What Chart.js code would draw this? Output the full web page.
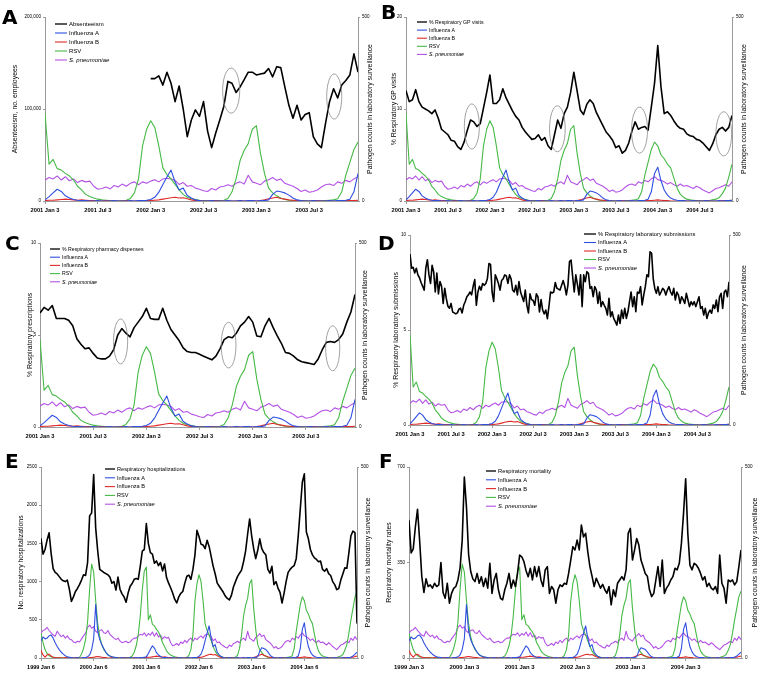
<!DOCTYPE html>
<html><head><meta charset="utf-8">
<script src="https://cdn.jsdelivr.net/npm/chart.js@4.4.1/dist/chart.umd.min.js"></script>
<style>
html,body{margin:0;padding:0;background:#fff}
body{width:768px;height:688px;position:relative;overflow:hidden}
canvas{position:absolute}
.lt{position:absolute;font:bold 20px "DejaVu Sans",sans-serif;line-height:20px;color:#000;z-index:5}
</style></head><body>
<div class="lt" style="left:2px;top:7px">A</div>
<div class="lt" style="left:381px;top:2px">B</div>
<div class="lt" style="left:5px;top:233px">C</div>
<div class="lt" style="left:378px;top:233px">D</div>
<div class="lt" style="left:5px;top:451px">E</div>
<div class="lt" style="left:379px;top:451px">F</div>
<script>
// ================= DATA =================
// Weekly time index: week 0 = 1999 Jan 6. Pathogen series are sampled every 2 weeks.
const pathogenStartWeek = 0;
const pathogenStep = 2;
const influenzaA = [45,55,50,52,58,60,52,40,30,22, 15,10,6,3,2,1,0,0,1,0, 0,1,1,3,8,22,50,140,70,48, 35,25,15,8,5,3,2,1,0,0,
  1,0,0,0,1,0,0,1,0,1, 1,2,3,12,22,32,26,14,8,4, 2,1,1,0,0,1,0,0,0,1, 0,0,0,1,0,1,1,2,4,10,
  24,45,65,84,52,30,35,15,8,3, 1,0,0,1,0,0,0,1,0,0, 1,0,1,1,0,1,1,3,18,27, 25,22,16,8,3,1,0,0,1,0,
  0,0,1,0,1,1,2,5,25,75, 92,55,30,16,8,4,2,1,1,0, 0,1,0,0,0,1,0,0,0,1, 0,1,1,2,5,10,15];
const influenzaB = [20,8,2,8,10,5,2,1,0,1, 0,0,1,0,0,0,0,1,0,0, 0,0,1,0,1,1,2,3,4,3, 2,1,1,0,0,1,0,0,0,0,
  0,1,0,0,0,0,1,0,0,1, 0,1,1,2,2,3,4,5,4,3, 2,3,2,1,1,0,0,1,0,0, 0,0,1,0,0,0,0,1,1,2,
  3,5,7,9,10,8,9,6,3,1, 1,0,0,0,1,0,0,0,0,0, 1,0,0,1,0,1,3,6,8,10, 7,5,3,2,1,1,0,0,0,1,
  0,0,0,0,0,0,1,1,1,2, 3,2,1,1,0,0,0,0,1,0, 0,0,0,0,0,1,0,0,0,0, 1,1,1,2,2,4,5];
const rsv = [65,40,22,12,6,3,2,1,1,0, 1,0,0,1,0,0,1,0,1,2, 10,25,48,95,180,246,225,150,90,55, 35,22,15,9,5,3,2,1,1,0,
  1,0,1,1,2,5,15,32,60,110, 178,228,238,100,113,88,84,75,68,57, 40,30,18,12,8,5,3,2,1,1, 0,1,2,7,22,60,150,195,218,200,
  150,90,72,60,45,30,18,10,6,4, 2,1,1,0,1,1,2,7,25,60, 110,138,156,195,205,130,75,35,22,14, 8,4,2,1,1,0,1,0,1,0,
  1,1,2,3,6,25,70,105,140,160, 150,125,115,100,90,62,35,18,10,5, 3,2,1,1,0,1,1,3,5,9, 20,35,65,100,130,160,175];
const sPneumoniae = [65,72,74,80,72,66,60,57,70,62, 56,60,52,58,50,48,42,40,44,42, 50,58,65,80,86,78,82,70,66,72,
  74,66,64,72,62,57,52,48,52,45, 40,42,44,40,42,48,52,52,58,62, 60,66,
  57,64,60,68,57,66,55,60,50,56, 52,54,40,32,34,38,33,42,38,46, 40,48,52,44,52,48,54,58,52,60,
  62,60,56,45,50,40,42,35,32,28, 26,34,30,38,40,44,40,48,52,46, 70,52,48,44,54,58,64,56,60,48,
  44,40,34,26,30,24,26,30,38,44, 46,42,52,48,56,52,60,66,58,56, 52,46,50,44,40,46,40,42,38,34,
  40,36,30,26,22,28,34,36,40,44, 40,52,46,56,48];

// Panel A: absenteeism (no. employees), from week 156, every 2 weeks
const absenteeismStart = 156;
const absenteeism = [133000,133000,136000,126000,140000,128000,108000,125000,100000,70000,
  88000,99000,92000,108000,76000,58000,74000,88000,103000,130000,
  128000,118000,124000,132000,140000,140000,137000,138000,139000,144000,
  135000,146000,145000,124000,104000,90000,104000,88000,94000,96000,
  70000,62000,58000,84000,108000,122000,112000,126000,131000,137000,
  160000,140000];
// Panel B: % respiratory GP visits, from week 104, every 2 weeks
const gpVisitsStart = 104;
const gpVisits = [12.0,10.8,11.0,12.1,10.8,10.2,10.0,9.8,9.5,9.9, 9.0,7.8,7.5,7.2,6.6,6.5,5.9,5.6,6.4,7.7,
  8.8,8.6,8.1,8.4,10.1,11.8,13.7,10.6,10.6,11.0, 12.2,11.2,10.5,9.8,9.2,8.8,8.0,7.5,7.1,6.7,
  6.8,7.2,6.6,6.9,6.0,5.6,7.2,8.8,7.9,9.5, 10.2,11.8,14.0,12.0,9.9,9.4,10.5,11.0,10.6,9.6,
  8.9,8.2,7.5,7.1,6.6,5.8,6.0,5.2,5.5,6.3, 7.6,8.6,7.8,8.0,8.1,7.7,10.2,12.8,16.9,12.4,
  9.5,9.7,9.3,8.7,8.2,7.9,7.8,7.3,7.1,7.0, 6.7,6.6,6.3,5.9,5.5,6.2,7.2,7.8,8.0,7.6, 8.0,9.3];
// Panel C: % respiratory pharmacy dispenses, from week 104, every 2 weeks
const pharmacyStart = 104;
const pharmacy = [6.2,6.5,6.35,6.6,5.9,5.9,5.9,5.8,5.5,4.8, 4.5,4.25,4.3,4.0,3.75,3.7,3.7,3.85,4.2,5.0,
  5.35,5.1,4.9,5.4,5.7,6.0,6.45,5.9,5.85,5.85, 6.45,5.8,5.3,5.0,4.7,4.3,4.1,4.05,4.05,3.95,
  3.85,3.75,3.65,3.85,4.25,4.75,4.9,4.85,5.1,5.5, 5.7,6.0,5.7,4.95,4.9,5.5,5.9,5.4,4.95,4.55,
  4.05,4.0,3.85,3.65,3.55,3.5,3.45,3.4,3.7,4.2, 4.6,4.65,4.6,4.75,5.05,5.7,6.25,7.2];
// Panel D: % respiratory laboratory submissions, weekly from week 104
const labStart = 104;
const labSubmissions = [9.0,8.25,8.3,8.0,8.25,7.9,7.75,7.5,7.3,7.1, 8.25,8.7,7.9,7.45,8.4,8.05,7.0,8.0,6.9,7.55,
  7.3,6.4,7.2,6.65,6.25,6.15,6.4,5.95,5.9,5.85, 5.9,6.1,6.15,5.9,6.3,6.5,6.75,6.85,7.0,6.85,
  7.3,7.65,6.3,7.0,7.3,7.1,7.45,7.35,7.45,7.7, 8.5,8.45,7.0,6.5,7.9,7.7,7.45,7.1,7.6,7.7,
  7.9,7.85,7.45,7.9,7.7,7.1,7.0,7.35,6.85,7.55, 7.0,6.75,6.5,7.1,6.3,5.9,6.9,6.6,6.55,6.3,
  6.9,6.75,5.95,6.6,6.05,5.85,6.05,5.6,6.25,7.0, 6.95,7.0,7.5,7.2,7.15,7.1,7.35,7.6,7.3,6.85,
  7.35,8.6,
  8.68,7.81,7.0,7.9,7.4,6.84,7.9,6.23,7.9,7.54, 8.07,7.98,7.19,7.28,6.75,7.28,7.1,6.4,7.0,6.23,
  6.49,6.3,6.14,5.79,6.67,5.7,5.96,5.61,5.44,5.26, 5.79,5.35,6.05,5.61,6.14,5.61,5.96,6.5,7.0,6.23,
  6.75,5.96,7.0,6.93,7.28,6.32,6.84,7.28,7.9,7.81, 9.12,9.04,7.72,7.19,6.93,7.28,6.84,7.0,7.19,7.1,
  6.84,7.1,7.28,7.0,6.84,7.19,6.58,7.0,6.84,6.4, 6.75,6.6,6.4,6.93,6.58,6.23,6.49,6.32,6.49,6.23,
  6.49,6.75,6.14,6.23,5.79,6.14,5.61,5.9,6.05,5.88, 6.32,6.14,6.58,5.96,6.75,6.93,6.14,7.0,7.1,6.75, 7.54];
// Panel E: no. respiratory hospitalizations, from week 0, every 2 weeks
const hospStart = 0;
const hospitalizations = [1565,1360,1420,1543,1640,1370,1170,1120,1100,1065, 1030,1010,1000,1020,900,740,800,870,910,960,
  1020,1090,1080,1250,1860,1900,2400,1700,1400,1160, 1140,1120,1105,1090,1060,980,1000,890,1060,900,
  840,800,730,850,940,975,1030,1040,1030,1200, 1400,1420,1760,1500,1380,1360,1240,1270,1210,1250,
  1140,1230,1050,980,920,850,770,720,800,845, 870,980,1070,1085,1030,1160,1350,1670,1590,1490,
  1480,1430,1540,1460,1330,1200,1100,980,940,900, 860,810,780,760,820,930,1000,1065,1110,1150,
  1260,1400,1620,1820,1600,1430,1300,1410,1560,1430, 1380,1350,1160,1110,1200,960,1000,915,860,720,
  850,1000,1120,1160,1190,1210,1300,1600,1950,2300, 2410,1650,1560,1420,1350,1310,1290,1260,1270,1160,
  1135,1170,1105,1080,1000,960,895,910,1020,1100, 1180,1175,1380,1600,1660,1640,450];
// Panel F: respiratory mortality rates, from week 0, every 2 weeks
const mortalityStart = 0;
const mortality = [505,385,400,481,545,430,300,240,290,262, 268,256,274,262,268,350,240,219,274,201,
  237,255,262,286,330,432,663,554,380,317, 290,280,310,274,298,262,292,256,347,237,
  286,310,250,219,213,250,274,310,256,286, 262,310,377,371,353,320,298,329,286,335,
  298,335,286,262,323,335,237,262,250,201, 250,268,262,274,270,310,359,408,396,432,
  396,487,444,457,390,335,300,262,292,274, 256,270,250,237,262,195,250,225,274,286,
  298,286,323,457,475,359,396,438,414,359, 335,310,300,250,225,237,286,335,262,359,
  237,256,268,286,298,329,323,347,420,530, 657,457,340,323,347,341,329,310,286,298,
  262,274,256,250,262,237,377,274,256,201, 286,280,286,268,280,335,396];

// Tick labels
const ticksWeeksAC = [104,130,156,182,208,234];
const ticksLabelsAC = ['2001 Jan 3','2001 Jul 3','2002 Jan 3','2002 Jul 3','2003 Jan 3','2003 Jul 3'];
const ticksWeeksBD = [104,130,156,182,208,234,260,286];
const ticksLabelsBD = ['2001 Jan 3','2001 Jul 3','2002 Jan 3','2002 Jul 3','2003 Jan 3','2003 Jul 3','2004 Jan 3','2004 Jul 3'];
const ticksWeeksEF = [0,52,104,156,208,260];
const ticksLabelsE = ['1999 Jan 6','2000 Jan 6','2001 Jan 6','2002 Jan 6','2003 Jan 6','2004 Jan 6'];
const ticksLabelsF = ['1999 Jan 3','2000 Jan 3','2001 Jan 3','2002 Jan 3','2003 Jan 3','2004 Jan 3'];

// Annotation ellipses (week, value, half-width in weeks, half-height in value units)
const ellipsesA = [{x:195.6,y:120000,rx:4.2,ry:24500},{x:246.3,y:113600,rx:3.7,ry:24500}];
const ellipsesB = [{x:144.8,y:8.1,rx:4.65,ry:2.45},{x:197.8,y:7.85,rx:4.85,ry:2.5},{x:248.7,y:7.7,rx:4.95,ry:2.5},{x:300.9,y:7.3,rx:4.85,ry:2.4}];
const ellipsesC = [{x:143.4,y:4.65,rx:3.45,ry:1.22},{x:196.2,y:4.45,rx:3.6,ry:1.24},{x:247.1,y:4.28,rx:3.45,ry:1.22}];

// ================= RENDERING =================
const FONT = '"Liberation Sans", Arial, sans-serif';
Chart.defaults.font.family = FONT;
const COLORS = {main:'#000000', fluA:'#2f4fe0', fluB:'#e02a2a', rsv:'#46b946', spn:'#b452e6'};
const RIGHT_TITLE = 'Pathogen counts in laboratory surveillance';

function toPoints(values, start, step, min, max){
  const out = [];
  values.forEach((v,i)=>{ const x = start + i*step; if (x >= min - 0.001 && x <= max + 0.001) out.push({x:x, y:v}); });
  return out;
}

const legendPlugin = {
  id:'customLegend',
  afterDatasetsDraw(chart, args, o){
    const ctx = chart.ctx;
    chart.data.datasets.forEach((ds,i)=>{
      const y = o.y + i*o.dy;
      ctx.save();
      ctx.strokeStyle = ds.borderColor; ctx.lineWidth = ds.legendWidth || 1;
      ctx.beginPath(); ctx.moveTo(o.x, y); ctx.lineTo(o.x + o.len, y); ctx.stroke();
      ctx.font = (ds.italic ? 'italic ' : '') + o.size + 'px ' + FONT;
      ctx.fillStyle = '#000'; ctx.textBaseline = 'middle'; ctx.textAlign = 'left';
      ctx.fillText(ds.label, o.x + o.len + 2, y + 0.3);
      ctx.restore();
    });
  }
};
const ellipsePlugin = {
  id:'ellipses',
  afterDatasetsDraw(chart, args, o){
    const items = o.items || [];
    if (!items.length) return;
    const xs = chart.scales.x, ys = chart.scales.y, ctx = chart.ctx;
    ctx.save(); ctx.strokeStyle = '#8a8a8a'; ctx.lineWidth = 0.8;
    items.forEach(e=>{
      const cx = xs.getPixelForValue(e.x), cy = ys.getPixelForValue(e.y);
      const rx = Math.abs(xs.getPixelForValue(e.x + e.rx) - cx), ry = Math.abs(ys.getPixelForValue(e.y + e.ry) - cy);
      ctx.beginPath(); ctx.ellipse(cx, cy, rx, ry, 0, 0, Math.PI*2); ctx.stroke();
    });
    ctx.restore();
  }
};
const titlePlugin = {
  id:'axisTitles',
  afterDraw(chart, args, o){
    const ctx = chart.ctx, a = chart.chartArea;
    const cy = (a.top + a.bottom)/2;
    ctx.save();
    ctx.font = o.size + 'px ' + FONT; ctx.fillStyle = '#000';
    ctx.textAlign = 'center'; ctx.textBaseline = 'middle';
    [[o.left, o.lx],[o.right, o.rx]].forEach(([t,x])=>{
      ctx.save(); ctx.translate(x, cy); ctx.rotate(-Math.PI/2); ctx.fillText(t, 0, 0); ctx.restore();
    });
    ctx.restore();
  }
};

const panels = [
  {box:[0,0,384,225], area:{l:45,t:17,r:358,b:201}, xr:[104,258], tw:ticksWeeksAC, tl:ticksLabelsAC, tsize:5.7,
   main:{label:'Absenteeism', values:absenteeism, start:absenteeismStart, step:2},
   yMax:200000, yStep:100000, comma:true, yTitle:'Absenteeism, no. employees', titleX:[15,370],
   legend:{x:55,y:24,dy:9,len:12,size:6}, ell:ellipsesA},
  {box:[384,0,384,225], area:{l:22,t:17,r:348,b:201}, xr:[104,306], tw:ticksWeeksBD, tl:ticksLabelsBD, tsize:5.7,
   main:{label:'% Respiratory GP visits', values:gpVisits, start:gpVisitsStart, step:2},
   yMax:20, yStep:10, yTitle:'% Respiratory GP visits', titleX:[10,360],
   legend:{x:33,y:22,dy:8.1,len:10,size:5.2}, ell:ellipsesB},
  {box:[0,225,384,220], area:{l:40,t:18,r:355,b:202}, xr:[104,258], tw:ticksWeeksAC, tl:ticksLabelsAC, tsize:5.7,
   main:{label:'% Respiratory pharmacy dispenses', values:pharmacy, start:pharmacyStart, step:2},
   yMax:10, yStep:5, yTitle:'% Respiratory prescriptions', titleX:[30,365],
   legend:{x:50,y:24,dy:8.2,len:10,size:5.2}, ell:ellipsesC},
  {box:[384,225,384,220], area:{l:26,t:10,r:345,b:200}, xr:[104,306], tw:ticksWeeksBD, tl:ticksLabelsBD, tsize:5.7,
   main:{label:'% Respiratory laboratory submissions', values:labSubmissions, start:labStart, step:1},
   yMax:10, yStep:5, yTitle:'% Respiratory laboratory submissions', titleX:[12,360],
   legend:{x:200,y:9,dy:8.5,len:12,size:5.8}, ell:[]},
  {box:[0,445,384,243], area:{l:41,t:22,r:357,b:213}, xr:[0,312], tw:ticksWeeksEF, tl:ticksLabelsE, tsize:5.5,
   main:{label:'Respiratory hospitalizations', values:hospitalizations, start:hospStart, step:2},
   yMax:2500, yStep:500, yTitle:'No. respiratory hospitalizations', titleX:[21,368],
   legend:{x:105,y:24,dy:8.8,len:10,size:5.6}, ell:[]},
  {box:[384,445,384,243], area:{l:25,t:22,r:357,b:213}, xr:[0,312], tw:ticksWeeksEF, tl:ticksLabelsF, tsize:5.9,
   main:{label:'Respiratory mortality', values:mortality, start:mortalityStart, step:2},
   yMax:700, yStep:350, yTitle:'Respiratory mortality rates', titleX:[5,371],
   legend:{x:102,y:26,dy:8.8,len:10,size:5.8}, ell:[]}
];

panels.forEach(p=>{
  const cv = document.createElement('canvas');
  cv.width = p.box[2]; cv.height = p.box[3];
  cv.style.left = p.box[0]+'px'; cv.style.top = p.box[1]+'px';
  cv.style.width = p.box[2]+'px'; cv.style.height = p.box[3]+'px';
  document.body.appendChild(cv);
  const [mn, mx] = p.xr;
  const line = (label, data, color, width, axis, extra) => Object.assign({
    label, data, borderColor:color, backgroundColor:color, borderWidth:width, pointRadius:0,
    tension:0, fill:false, yAxisID:axis, borderJoinStyle:'round', legendWidth:width
  }, extra||{});
  const datasets = [
    line(p.main.label, toPoints(p.main.values, p.main.start, p.main.step, mn, mx), COLORS.main, 1.6, 'y', {legendWidth:1.3}),
    line('Influenza A', toPoints(influenzaA, pathogenStartWeek, pathogenStep, mn, mx), COLORS.fluA, 1.1, 'y2'),
    line('Influenza B', toPoints(influenzaB, pathogenStartWeek, pathogenStep, mn, mx), COLORS.fluB, 1.1, 'y2'),
    line('RSV', toPoints(rsv, pathogenStartWeek, pathogenStep, mn, mx), COLORS.rsv, 1.1, 'y2'),
    line('S. pneumoniae', toPoints(sPneumoniae, pathogenStartWeek, pathogenStep, mn, mx), COLORS.spn, 1.1, 'y2', {italic:true})
  ];
  const axisCommon = {grid:{drawOnChartArea:false, drawTicks:true, tickLength:2, color:'#9a9a9a'}, border:{display:true, color:'#9a9a9a', width:1}};
  new Chart(cv, {
    type:'line',
    data:{datasets},
    options:{
      responsive:false, animation:false, devicePixelRatio:1, parsing:true,
      layout:{padding:{left:0,right:0,top:p.area.t,bottom:0}},
      scales:{
        x:{type:'linear', min:mn, max:mx, bounds:'data',
          afterBuildTicks:s=>{ s.ticks = p.tw.map(v=>({value:v})); },
          ticks:{autoSkip:false, maxRotation:0, minRotation:0, padding:3, color:'#000',
            font:{size:p.tsize, weight:'bold'}, callback:(v)=>{ const k = p.tw.indexOf(v); return k>=0 ? p.tl[k] : ''; }},
          grid:{drawOnChartArea:false, drawTicks:true, tickLength:3, color:'#9a9a9a'},
          border:{display:true, color:'#9a9a9a'},
          afterFit:s=>{ s.height = p.box[3] - p.area.b; }
        },
        y:Object.assign({}, axisCommon, {type:'linear', position:'left', min:0, max:p.yMax,
          ticks:{stepSize:p.yStep, padding:2, color:'#000', font:{size:4.6},
            callback:v=> p.comma ? Number(v).toLocaleString('en-US') : String(v)},
          afterFit:s=>{ s.width = p.area.l; }}),
        y2:Object.assign({}, axisCommon, {type:'linear', position:'right', min:0, max:500,
          ticks:{stepSize:500, padding:2, color:'#000', font:{size:4.6}, callback:v=>String(v)},
          afterFit:s=>{ s.width = p.box[2] - p.area.r; }})
      },
      plugins:{
        legend:{display:false}, tooltip:{enabled:false}, title:{display:false},
        customLegend:p.legend,
        ellipses:{items:p.ell},
        axisTitles:{left:p.yTitle, right:RIGHT_TITLE, lx:p.titleX[0], rx:p.titleX[1], size:6.9}
      }
    },
    plugins:[legendPlugin, ellipsePlugin, titlePlugin]
  });
});
</script>
</body></html>
